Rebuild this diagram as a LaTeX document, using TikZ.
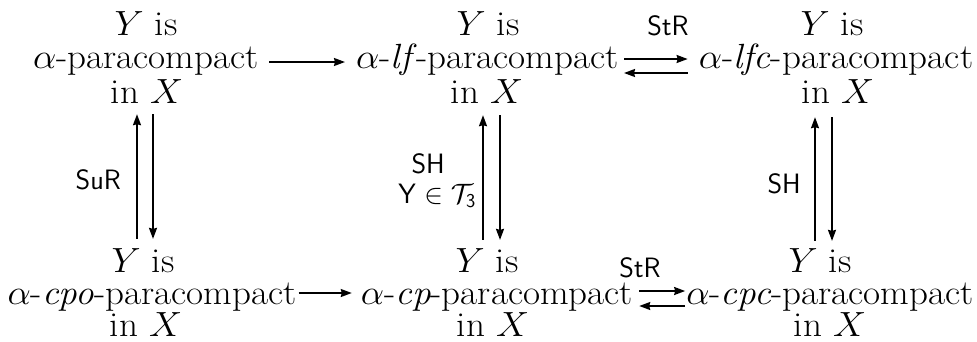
\RequirePackage{fix-cm}
\documentclass[tikz,border=0pt]{standalone}
\usetikzlibrary{arrows.meta}
\newcommand{\widetxt}[1]{\scalebox{1.06}[1]{#1}}
\tikzset{
  txt/.style={inner sep=0pt, anchor=base, font=\fontsize{35}{35}\selectfont},
  lbl/.style={inner sep=0pt, font=\fontsize{28}{28}\selectfont\sffamily},
  arr/.style={line width=1.7pt, -{Stealth[length=11pt,width=8pt,inset=1pt]}},
}
\begin{document}
\begin{tikzpicture}[x=1pt,y=-1pt]
\fill[white] (0,0) rectangle (977,341);
\useasboundingbox (0,0) rectangle (977,341);
% top row
\node[txt] (A1) at (146,35) {\widetxt{$Y$ is}};
\node[txt] (A)  at (146,68) {\widetxt{$\alpha$-paracompact}};
\node[txt] (A3) at (147,103) {\widetxt{in $X$}};
\node[txt] (B1) at (488,35) {\widetxt{$Y$ is}};
\node[txt] (B)  at (487.5,68) {\widetxt{$\alpha$-\textit{lf}-paracompact}};
\node[txt] (B3) at (487,103) {\widetxt{in $X$}};
\node[txt] (C1) at (832,35) {\widetxt{$Y$ is}};
\node[txt] (C)  at (836,68) {\widetxt{$\alpha$-\textit{lfc}-paracompact}};
\node[txt] (C3) at (838,103) {\widetxt{in $X$}};
% bottom row
\node[txt] (D1) at (143,272) {\widetxt{$Y$ is}};
\node[txt] (D)  at (152,304) {\widetxt{$\alpha$-\textit{cpo}-paracompact}};
\node[txt] (D3) at (146,336) {\widetxt{in $X$}};
\node[txt] (E1) at (487,272) {\widetxt{$Y$ is}};
\node[txt] (E)  at (497,304) {\widetxt{$\alpha$-\textit{cp}-paracompact}};
\node[txt] (E3) at (493,336) {\widetxt{in $X$}};
\node[txt] (F1) at (820,272) {\widetxt{$Y$ is}};
\node[txt] (F)  at (830,304) {\widetxt{$\alpha$-\textit{cpc}-paracompact}};
\node[txt] (F3) at (830,336) {\widetxt{in $X$}};
% labels
\node[lbl, anchor=base] (l1) at (668,35) {StR};
\node[lbl, anchor=base] (l2) at (640,277) {StR};
\node[lbl, anchor=base east] (l3) at (121,189) {SuR};
\node[lbl, anchor=base east] (l4) at (445,173) {SH};
\node[lbl, anchor=base east] (l5) at (476,203) {$\mathsf{Y}\in\mathcal{T}_{\mathsf{3}}$};
\node[lbl, anchor=base east] (l6) at (801,193) {SH};
% horizontal arrows
\draw[arr, shorten <=10pt, shorten >=11pt] ([yshift=6pt]A.base east) -- ([yshift=6pt]B.base west);
\draw[arr, shorten <=5pt, shorten >=11pt] ([yshift=9pt]B.base east) -- ([yshift=9pt]C.base west);
\draw[arr, shorten <=11pt, shorten >=5pt] ([yshift=-5pt]C.base west) -- ([yshift=-5pt]B.base east);
\draw[arr, shorten <=2pt, shorten >=9pt] ([yshift=11pt]D.base east) -- ([yshift=11pt]E.base west);
\draw[arr, shorten <=6pt, shorten >=1pt] ([yshift=13pt]E.base east) -- ([yshift=13pt]F.base west);
\draw[arr, shorten <=1pt, shorten >=6pt] ([yshift=-2pt]F.base west) -- ([yshift=-2pt]E.base east);
% vertical arrows
\draw[arr, shorten <=9pt, shorten >=11pt] ([xshift=-6pt]D1.north) -- ([xshift=-6pt]D1.north |- A3.south);
\draw[arr, shorten <=11pt, shorten >=9pt] ([xshift=6pt]A3.south) -- ([xshift=6pt]A3.south |- D1.north);
\draw[arr, shorten <=8pt, shorten >=12pt] ([xshift=-4pt]E1.north) -- ([xshift=-4pt]E1.north |- B3.south);
\draw[arr, shorten <=12pt, shorten >=8pt] ([xshift=13pt]B3.south) -- ([xshift=13pt]B3.south |- E1.north);
\draw[arr, shorten <=7pt, shorten >=14pt] ([xshift=-5pt]F1.north) -- ([xshift=-5pt]F1.north |- C3.south);
\draw[arr, shorten <=14pt, shorten >=7pt] ([xshift=-6pt]C3.south) -- ([xshift=-6pt]C3.south |- F1.north);
\end{tikzpicture}
\end{document}
